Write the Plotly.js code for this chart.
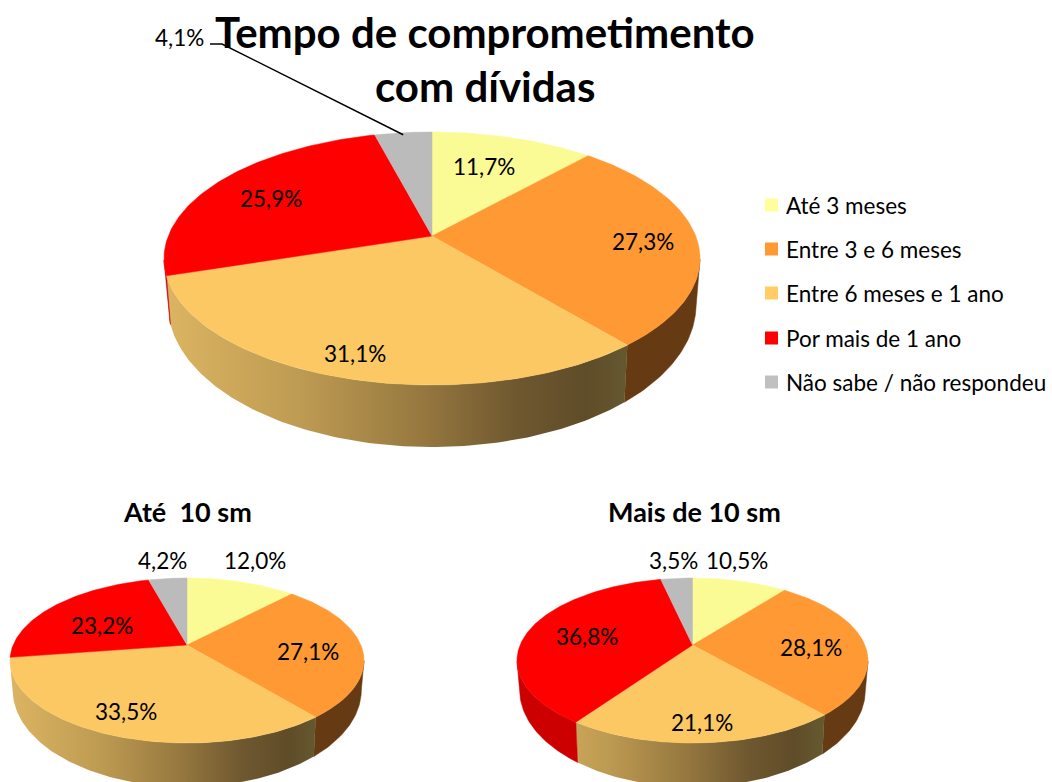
<!DOCTYPE html>
<html><head><meta charset="utf-8">
<script src="https://cdn.plot.ly/plotly-3.0.1.min.js"></script>
<style>html,body{margin:0;padding:0;background:#fff}#c{width:1052px;height:782px}</style>
</head><body><div id="c"></div>
<script>
// ---------- data ----------
const categories = ['Até 3 meses','Entre 3 e 6 meses','Entre 6 meses e 1 ano','Por mais de 1 ano','Não sabe / não respondeu'];
const totalValues = [11.7,27.3,31.1,25.9,4.1];
const ateValues   = [12.0,27.1,33.5,23.2,4.2];
const maisValues  = [10.5,28.1,21.1,36.8,3.5];
const titleLines  = ['Tempo de comprometimento','com dívidas'];
const subTitles   = ['Até  10 sm','Mais de 10 sm'];
// ---------- style ----------
const topColors  = ['#fbfb96','#fe9933','#fbc864','#fe0000','#bbbbbb'];
const legColors  = ['#ffff99','#ff9933','#ffcc66','#ff0000','#c0c0c0'];
const wallColors = ['#a8a860','#663a12',null,'#cc0000','#808080'];
const wallScale  = [[0,'#dcb562'],[0.3,'#bd9a52'],[0.55,'#96783f'],[0.75,'#6f5830'],[0.9,'#5f4c28'],[1,'#665a30']];
const FONT = 'Lato, Carlito, Calibri, sans-serif';
// pie geometry: apex, half width, up/down reach of the top face, lower rim ellipse (centre y, half height), wall taper
const pies = [
  {values:totalValues, cx:432,   cy:236, rx:268,   up:104, down:149, lowY:305, lowR:142, taper:.985,
   labels:[[484,166],[643,241],[355,353],[271,198],[179,37]]},
  {values:ateValues,   cx:187,   cy:645, rx:177,   up:67,  down:98,  lowY:690, lowR:97,  taper:.985,
   labels:[[255,560],[308,651],[126,711],[102,625],[162,560]]},
  {values:maisValues,  cx:692.5, cy:645, rx:175.5, up:67,  down:98,  lowY:690, lowR:97,  taper:.985,
   labels:[[737,560],[811,647],[702,722],[587,636],[673,560]]}
];
const legendX = 771.5, legendTextX = 783.5, legendY = [205,249,293,338,382];
const fmt = v => v.toFixed(1).replace('.',',') + '%';

function projector(p){
  const k = (p.down-p.up)/(p.down+p.up), B = p.up*(1+k), A = p.rx*Math.sqrt(1-k*k);
  return frac => {
    const t = frac*2*Math.PI, X = Math.sin(t), Y = Math.cos(t), d = 1+k*Y;
    return [p.cx + A*X/d, p.cy - B*Y/d, Y];
  };
}
function lowerPoint(p,q){
  const x = p.cx+(q[0]-p.cx)*p.taper, u = Math.min(1,Math.abs(x-p.cx)/(p.rx*p.taper));
  return [x, p.lowY+p.lowR*Math.sqrt(1-u*u)];
}
const traces = [], annotations = [];
pies.forEach(p => {
  const proj = projector(p), tot = p.values.reduce((a,b)=>a+b,0);
  const kk = (p.down-p.up)/(p.down+p.up);
  const tops = [], walls = [];
  let acc = 0;
  p.values.forEach((v,i) => {
    const f0 = acc/tot, f1 = (acc+v)/tot; acc += v;
    const n = Math.max(4,Math.ceil((f1-f0)*360));
    const rim = [];
    for(let j=0;j<=n;j++) rim.push(proj(f0+(f1-f0)*j/n));
    const front = rim.filter(q => q[2] <= -kk);          // only the part of the rim facing the viewer has a wall
    if(front.length > 1){
      const low = front.slice().reverse().map(q => lowerPoint(p,q));
      const wp = front.concat(low); wp.push(front[0]);
      const w = {type:'scatter',mode:'lines',x:wp.map(q=>q[0]),y:wp.map(q=>q[1]),fill:'toself',
        hoverinfo:'skip',showlegend:false};
      if(wallColors[i]){ w.fillcolor = wallColors[i]; w.line = {width:0.5,color:wallColors[i]}; }
      else { w.line = {width:0,color:'rgba(0,0,0,0)'};
        w.fillgradient = {type:'horizontal',colorscale:wallScale,start:p.cx-p.rx,stop:p.cx+p.rx*0.75}; }
      walls.push(w);
    }
    const tp = [[p.cx,p.cy]].concat(rim); tp.push([p.cx,p.cy]);
    tops.push({type:'scatter',mode:'lines',x:tp.map(q=>q[0]),y:tp.map(q=>q[1]),fill:'toself',
      fillcolor:topColors[i],line:{width:0.5,color:topColors[i]},name:categories[i],
      hoverinfo:'name',showlegend:false});
    annotations.push({x:p.labels[i][0],y:p.labels[i][1],text:fmt(v),showarrow:false,
      font:{family:FONT,size:22.5,color:'#000'}});
  });
  traces.push(...walls,...tops);
});
// leader line of the small slice in the main pie
(function(){
  const p = pies[0], tot = p.values.reduce((a,b)=>a+b,0);
  const mid = projector(p)((tot-p.values[4]/2)/tot);
  traces.push({type:'scatter',mode:'lines',x:[210,222,mid[0]],y:[44,44,mid[1]+2],
    line:{color:'#000',width:1.5},hoverinfo:'skip',showlegend:false});
})();
// legend
traces.push({type:'scatter',mode:'markers',x:legendY.map(()=>legendX),y:legendY,
  marker:{symbol:'square',size:13,color:legColors,line:{width:0}},text:categories,hoverinfo:'text',showlegend:false});
categories.forEach((c,i)=>annotations.push({x:legendTextX,y:legendY[i],text:c,xanchor:'left',showarrow:false,
  font:{family:FONT,size:22.5,color:'#000'}}));
// titles
titleLines.forEach((t,i)=>annotations.push({x:485,y:[32,86][i],text:'<b>'+t+'</b>',showarrow:false,
  font:{family:FONT,size:42,color:'#000'}}));
subTitles.forEach((t,i)=>annotations.push({x:[187,694][i],y:511,text:'<b>'+t+'</b>',showarrow:false,
  font:{family:FONT,size:27,color:'#000'}}));

Plotly.newPlot('c',traces,{
  width:1052,height:782,margin:{l:0,r:0,t:0,b:0,pad:0},
  paper_bgcolor:'#fff',plot_bgcolor:'#fff',showlegend:false,hovermode:'closest',
  xaxis:{range:[0,1052],visible:false,fixedrange:true},
  yaxis:{range:[782,0],visible:false,fixedrange:true},
  annotations:annotations
},{displayModeBar:false});
</script></body></html>
